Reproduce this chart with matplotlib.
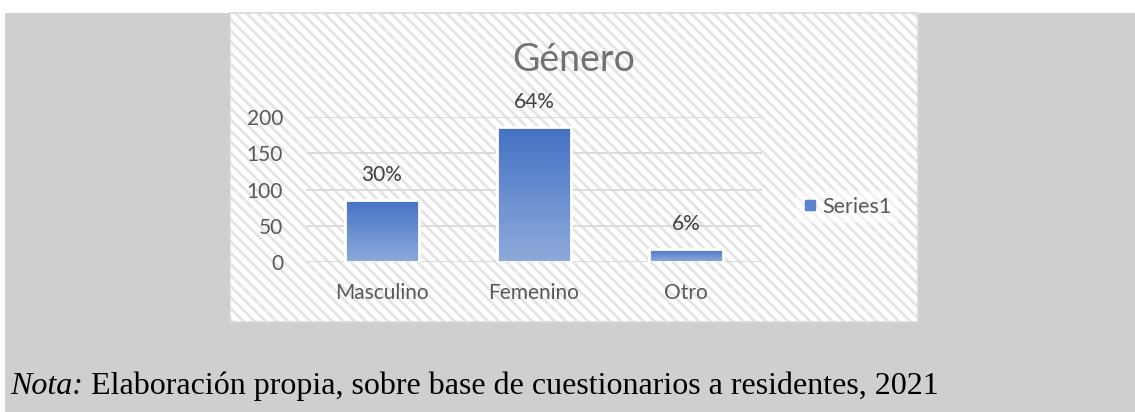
import numpy as np
import matplotlib
matplotlib.use("Agg")
import matplotlib.pyplot as plt
from matplotlib.patches import Rectangle
from matplotlib.lines import Line2D
from matplotlib.colors import LinearSegmentedColormap

# ---------------- data ----------------
categories = ["Masculino", "Femenino", "Otro"]
values = [86, 186, 18]
percent_labels = ["30%", "64%", "6%"]
yticks = [0, 50, 100, 150, 200]
title_text = "Género"
series_name = "Series1"
note_italic = "Nota:"
note_text = " Elaboración propia, sobre base de cuestionarios a residentes, 2021"

W, H = 1135, 412
plt.rcParams['font.family'] = ['Lato', 'DejaVu Sans']
plt.rcParams['hatch.linewidth'] = 2.0

fig = plt.figure(figsize=(W / 100, H / 100), dpi=100)
fig.patch.set_facecolor("white")


def fx(px):
    return px / W


def fy(py):
    return 1 - py / H


# page background (gray)
fig.patches.append(Rectangle((fx(5), 0), 1 - fx(5), fy(13), transform=fig.transFigure,
                             facecolor="#d0cece", edgecolor="none", zorder=-3))
# chart area with diagonal pattern
fig.patches.append(Rectangle((fx(230), fy(322)), fx(918) - fx(230), fy(13) - fy(322),
                             transform=fig.transFigure, facecolor="white",
                             edgecolor="#e4e4e4", hatch="\\\\\\", linewidth=0, zorder=-2))
fig.patches.append(Rectangle((fx(230), fy(322)), fx(918) - fx(230), fy(13) - fy(322),
                             transform=fig.transFigure, facecolor="none",
                             edgecolor="#d9d9d9", linewidth=1.2, zorder=-1))

ax = fig.add_axes([fx(306), fy(262), fx(762) - fx(306), fy(117) - fy(262)])
ax.set_zorder(5)
ax.patch.set_visible(False)
for s in ax.spines.values():
    s.set_visible(False)

x = np.arange(len(categories))
bars = ax.bar(x, values, width=0.49, color="none", edgecolor="white", linewidth=2.0, zorder=4)

cmap = LinearSegmentedColormap.from_list("grad", ["#8eaadb", "#4472c4"])
grad = np.linspace(0, 1, 256).reshape(-1, 1)
for b in bars:
    x0, y0 = b.get_x(), b.get_y()
    w, h = b.get_width(), b.get_height()
    im = ax.imshow(grad, cmap=cmap, origin="lower", aspect="auto",
                   extent=(x0, x0 + w, y0, y0 + h), zorder=3)
    im.set_clip_path(b)

for b, lab in zip(bars, percent_labels):
    ax.annotate(lab, (b.get_x() + b.get_width() / 2, b.get_height()),
                xytext=(0, 18), textcoords="offset points", ha="center", va="center",
                fontsize=15, color="#404040", annotation_clip=False)

ax.set_xlim(-0.5, len(categories) - 0.5)
ax.set_ylim(0, 200)
ax.set_xticks(x)
ax.set_xticklabels(categories)
ax.set_yticks(yticks)
ax.tick_params(axis="both", length=0, labelsize=15, labelcolor="#595959")
ax.tick_params(axis="x", pad=15)
ax.tick_params(axis="y", pad=16.5)
ax.yaxis.grid(True, color="#d9d9d9", linewidth=1.3, zorder=0)
ax.set_axisbelow(True)

fig.text(fx(574), fy(60), title_text, ha="center", va="center", fontsize=27, color="#767171")

handle = Line2D([], [], linestyle="none", marker="s", markersize=6.5,
                markerfacecolor="#5b83cf", markeredgecolor="#5b83cf")
leg = fig.legend([handle], [series_name], loc="center left",
                 bbox_to_anchor=(fx(785), fy(207)), fontsize=15.5, frameon=True,
                 handlelength=0.7, handletextpad=0.25, borderpad=0.3, labelcolor="#595959")
leg.get_frame().set_facecolor("white")
leg.get_frame().set_alpha(0.5)
leg.get_frame().set_edgecolor("none")

t1 = fig.text(fx(10), fy(394), note_italic, ha="left", va="baseline",
              fontsize=23, style="italic", family="Liberation Serif", color="black")
fig.texts.append(matplotlib.text.Annotation(
    note_text, xy=(1, 0), xycoords=t1, ha="left", va="bottom",
    fontsize=23, family="Liberation Serif", color="black", annotation_clip=False))
fig.texts[-1].set_figure(fig)

fig.savefig("out.png", dpi=100, facecolor=fig.get_facecolor())
